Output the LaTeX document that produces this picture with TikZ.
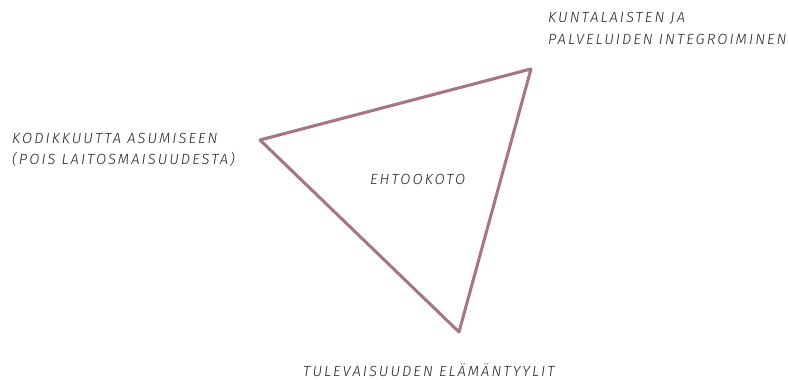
\documentclass[tikz,border=0pt]{standalone}
\usepackage{fontspec}
\setmainfont{Fira Sans}
\newfontfamily\labelfont[LetterSpace=14]{Fira Sans Light Italic}
\usetikzlibrary{positioning}
\definecolor{triPink}{HTML}{CF5F7A}
\definecolor{triGrey}{HTML}{878787}
\definecolor{labelInk}{HTML}{222222}

\begin{document}
\begin{tikzpicture}[x=1pt, y=-1pt,
  label/.style={font=\labelfont\fontsize{14.7}{21}\selectfont, text=labelInk, inner sep=0pt, align=left},
  edge/.style={line width=3pt, line join=round, line cap=round}]
  \useasboundingbox (0,0) rectangle (788,380);
  % corners of the triangle
  \coordinate (top) at (531,69);
  \coordinate (left) at (260,140);
  \coordinate (bottom) at (459,332);
  % two strokes give the greyish pink line
  \draw[edge, triPink] (top) -- (left) -- (bottom) -- cycle;
  \draw[edge, triGrey, line width=1.6pt, transform canvas={yshift=0.5pt}] (top) -- (left) -- (bottom) -- cycle;
  % texts
  \node[label, anchor=base west] (integ) at (548,44) {KUNTALAISTEN JA\\PALVELUIDEN INTEGROIMINEN};
  \node[label, anchor=base west] (koti) at (12,164) {KODIKKUUTTA ASUMISEEN\\(POIS LAITOSMAISUUDESTA)};
  \node[label, anchor=base west] (centre) at (370,184) {EHTOOKOTO};
  \node[label, anchor=base west] (future) at (303,376) {TULEVAISUUDEN ELÄMÄNTYYLIT};
\end{tikzpicture}
\end{document}
